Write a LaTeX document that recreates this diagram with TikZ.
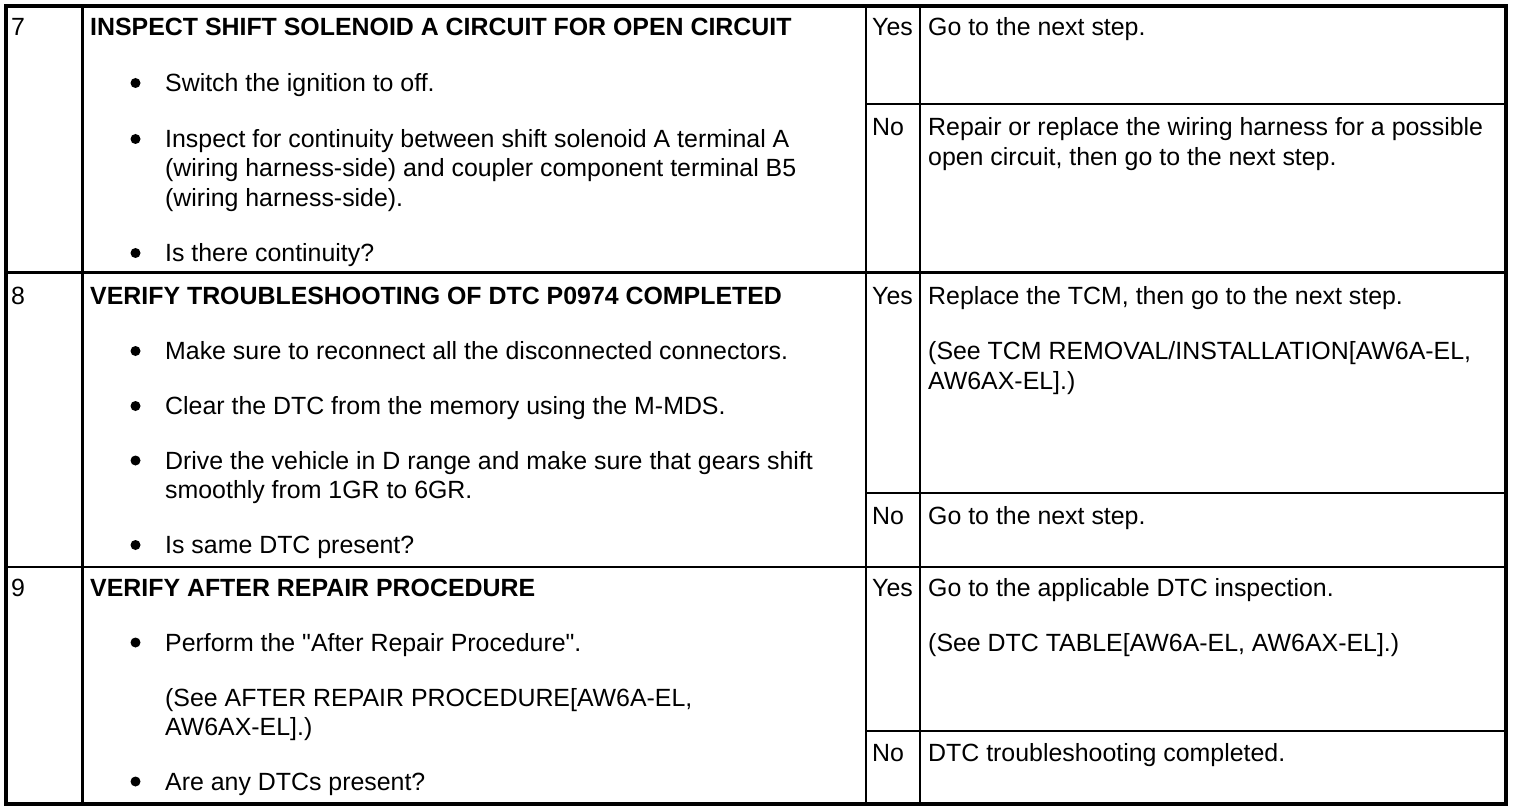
\documentclass[tikz,border=0pt]{standalone}
\usepackage{fontspec}
\setmainfont{Liberation Sans}[Ligatures=TeXOff]
\begin{document}
\begin{tikzpicture}[x=1pt,y=-1pt,
  txt/.style={inner sep=0pt, anchor=base west, font=\fontsize{24.9}{29.5}\selectfont},
  ttl/.style={inner sep=0pt, anchor=base west, font=\fontsize{24.9}{29.5}\selectfont\bfseries},
  bul/.style={circle, fill=black, inner sep=0pt, minimum size=10pt},
  rule/.style={line width=2.2pt, black},
  frame/.style={line width=4pt, black}]
\fill[white] (0,0) rectangle (1520,810);
\useasboundingbox (0,0) rectangle (1520,810);
% grid
\draw[rule] (82.5,6) -- (82.5,803.5);
\draw[rule] (866,6) -- (866,803.5);
\draw[rule] (920,6) -- (920,803.5);
\draw[rule] (6,272.5) -- (1506,272.5);
\draw[rule] (6,567) -- (1506,567);
\draw[rule] (866,104) -- (1506,104);
\draw[rule] (866,493) -- (1506,493);
\draw[rule] (866,731) -- (1506,731);
\draw[frame] (6,6) rectangle (1506,803.5);
% row 7
\node[txt] (n7) at (11,36) {7};
\node[ttl] (t7) at (90,36) {INSPECT SHIFT SOLENOID A CIRCUIT FOR OPEN CIRCUIT};
\node[bul] (b71) at (135.5,83) {};
\node[txt] (l71) at (165,91.5) {Switch the ignition to off.};
\node[bul] (b72) at (135.5,139) {};
\node[txt] (l72a) at (165,147.5) {Inspect for continuity between shift solenoid A terminal A};
\node[txt] (l72b) at (165,177) {(wiring harness-side) and coupler component terminal B5};
\node[txt] (l72c) at (165,206.5) {(wiring harness-side).};
\node[bul] (b73) at (135.5,253) {};
\node[txt] (l73) at (165,261.5) {Is there continuity?};
\node[txt] (y7) at (872,36) {Yes};
\node[txt] (y7t) at (928,36) {Go to the next step.};
\node[txt] (n7n) at (872,136) {No};
\node[txt] (n7ta) at (928,136) {Repair or replace the wiring harness for a possible};
\node[txt] (n7tb) at (928,165.5) {open circuit, then go to the next step.};
% row 8
\node[txt] (n8) at (11,304) {8};
\node[ttl] (t8) at (90,304) {VERIFY TROUBLESHOOTING OF DTC P0974 COMPLETED};
\node[bul] (b81) at (135.5,351) {};
\node[txt] (l81) at (165,359.5) {Make sure to reconnect all the disconnected connectors.};
\node[bul] (b82) at (135.5,406) {};
\node[txt] (l82) at (165,414.5) {Clear the DTC from the memory using the M-MDS.};
\node[bul] (b83) at (135.5,460.5) {};
\node[txt] (l83a) at (165,469) {Drive the vehicle in D range and make sure that gears shift};
\node[txt] (l83b) at (165,498.5) {smoothly from 1GR to 6GR.};
\node[bul] (b84) at (135.5,545) {};
\node[txt] (l84) at (165,553.5) {Is same DTC present?};
\node[txt] (y8) at (872,304) {Yes};
\node[txt] (y8a) at (928,304) {Replace the TCM, then go to the next step.};
\node[txt] (y8b) at (928,359.5) {(See TCM REMOVAL/INSTALLATION[AW6A-EL,};
\node[txt] (y8c) at (928,389) {AW6AX-EL].)};
\node[txt] (n8n) at (872,524) {No};
\node[txt] (n8t) at (928,524) {Go to the next step.};
% row 9
\node[txt] (n9) at (11,596) {9};
\node[ttl] (t9) at (90,596) {VERIFY AFTER REPAIR PROCEDURE};
\node[bul] (b91) at (135.5,642.5) {};
\node[txt] (l91) at (165,651) {Perform the "After Repair Procedure".};
\node[txt] (l92a) at (165,706) {(See AFTER REPAIR PROCEDURE[AW6A-EL,};
\node[txt] (l92b) at (165,735.5) {AW6AX-EL].)};
\node[bul] (b93) at (135.5,781.5) {};
\node[txt] (l93) at (165,790) {Are any DTCs present?};
\node[txt] (y9) at (872,596) {Yes};
\node[txt] (y9a) at (928,596) {Go to the applicable DTC inspection.};
\node[txt] (y9b) at (928,651) {(See DTC TABLE[AW6A-EL, AW6AX-EL].)};
\node[txt] (n9n) at (872,761) {No};
\node[txt] (n9t) at (928,761) {DTC troubleshooting completed.};
\end{tikzpicture}
\end{document}
